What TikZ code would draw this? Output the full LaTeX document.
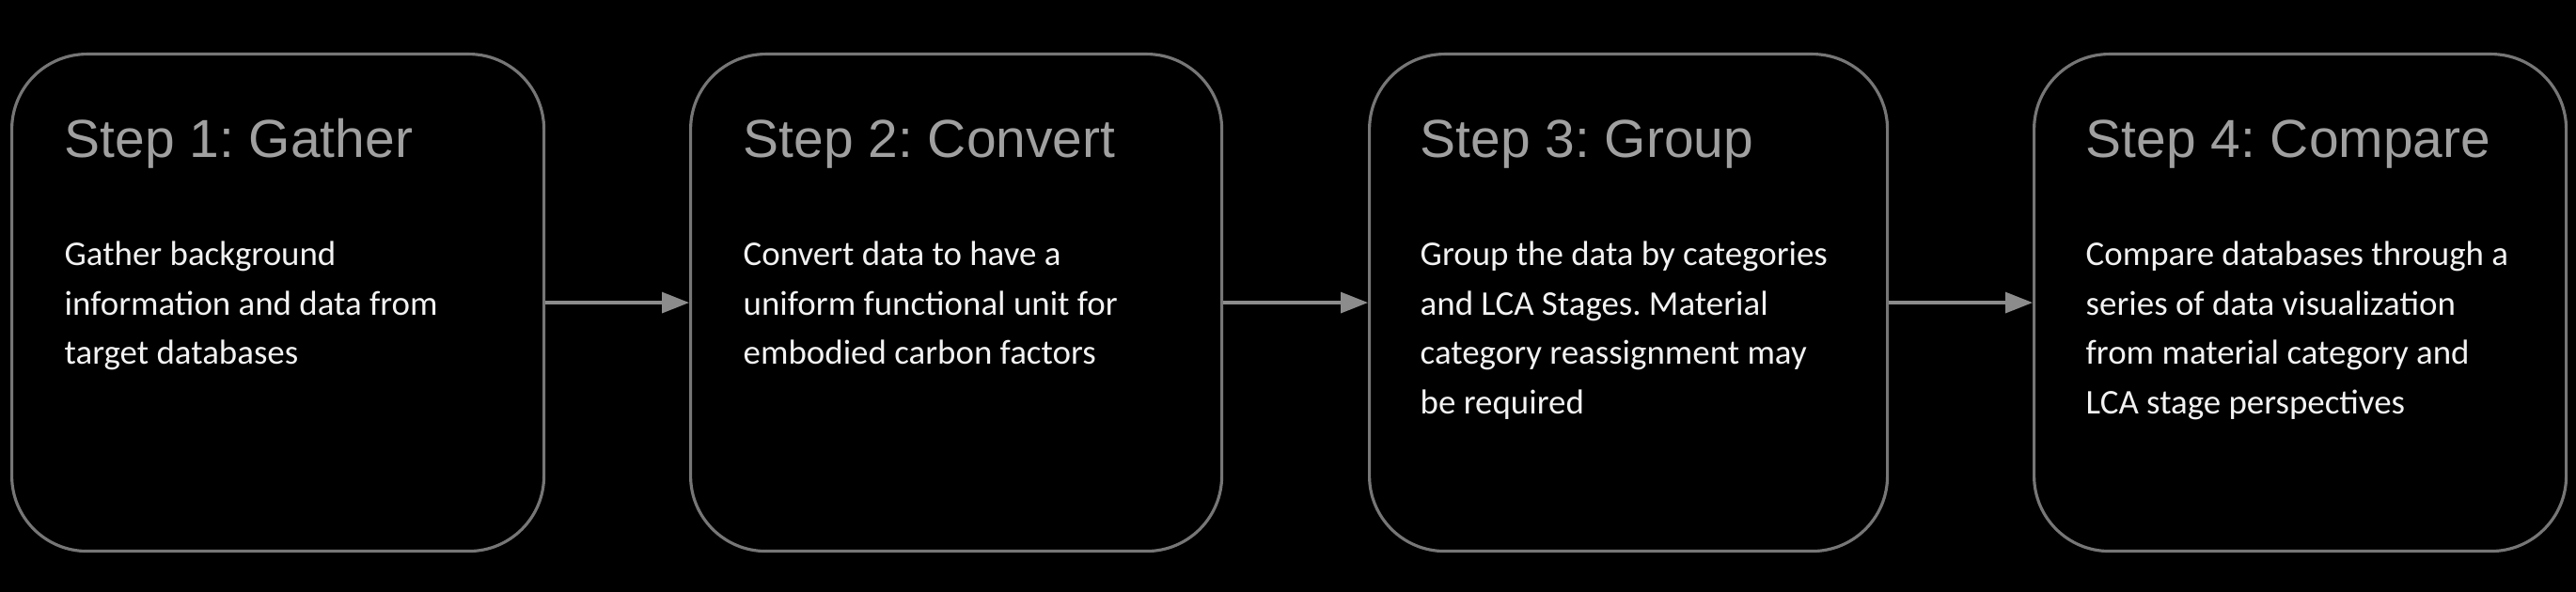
\documentclass[tikz,border=0pt]{standalone}
\usepackage{fontspec}
\setmainfont{Carlito}
\newfontfamily\titlefont{Liberation Sans}
\usetikzlibrary{arrows.meta,positioning}
\definecolor{boxgray}{RGB}{118,118,118}
\definecolor{titlegray}{RGB}{160,160,160}
\definecolor{bodywhite}{RGB}{242,242,242}
\definecolor{arrowgray}{RGB}{140,140,140}
\frenchspacing

\begin{document}
\begin{tikzpicture}[
    stepbox/.style={
      draw=boxgray, line width=0.9pt, rounded corners=8mm,
      minimum height=5.29cm, inner sep=0pt, anchor=north west,
    },
    steptitle/.style={
      anchor=base west, inner sep=0pt, text=titlegray,
      font=\titlefont\fontsize{16.2}{19}\selectfont,
    },
    steptext/.style={
      anchor=base west, inner sep=0pt, align=left, text=bodywhite,
      font=\fontsize{10.5}{14.94}\selectfont,
    },
    flow/.style={
      draw=arrowgray, line width=0.9pt,
      -{Triangle[length=2.9mm,width=2.2mm]},
    }]
    \fill[black] (0,0) rectangle (27.4,6.3);
    % the four boxes
    \node[stepbox, minimum width=5.66cm] (gather) at (0.11,5.74) {};
    \node[stepbox, minimum width=5.65cm] (convert) at (7.33,5.74) {};
    \node[stepbox, minimum width=5.51cm] (group) at (14.55,5.74) {};
    \node[stepbox, minimum width=5.66cm] (compare) at (21.62,5.74) {};
    % titles
    \node[steptitle] (gather title) at ([xshift=5.7mm,yshift=-11.2mm]gather.north west) {Step 1: Gather};
    \node[steptitle] (convert title) at ([xshift=5.7mm,yshift=-11.2mm]convert.north west) {Step 2: Convert};
    \node[steptitle] (group title) at ([xshift=5.5mm,yshift=-11.2mm]group.north west) {Step 3: Group};
    \node[steptitle] (compare title) at ([xshift=5.6mm,yshift=-11.2mm]compare.north west) {Step 4: Compare};
    % descriptions (base anchor sits on the last line)
    \node[steptext] (gather text) at ([xshift=5.7mm,yshift=-33.2mm]gather.north west)
      {Gather background\\information and data from\\target databases};
    \node[steptext] (convert text) at ([xshift=5.7mm,yshift=-33.2mm]convert.north west)
      {Convert data to have a\\uniform functional unit for\\embodied carbon factors};
    \node[steptext] (group text) at ([xshift=5.5mm,yshift=-38.45mm]group.north west)
      {Group the data by categories\\and LCA Stages. Material\\category reassignment may\\be required};
    \node[steptext] (compare text) at ([xshift=5.6mm,yshift=-38.45mm]compare.north west)
      {Compare databases through a\\series of data visualization\\from material category and\\LCA stage perspectives};
    % connectors
    \draw[flow] (gather) -- (convert);
    \draw[flow] (convert) -- (group);
    \draw[flow] (group) -- (compare);
\end{tikzpicture}
\end{document}
